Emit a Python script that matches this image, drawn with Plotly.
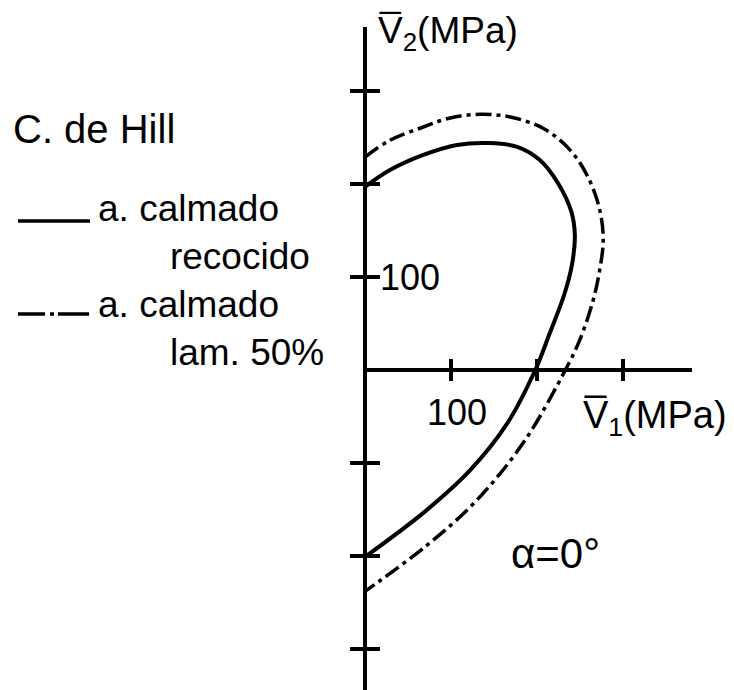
import plotly.graph_objects as go

# Hill yield loci (alpha = 0 deg), stresses in MPa
annealed_s1 = [0, 29, 67, 107, 145, 177, 203, 225, 240, 244, 241, 232, 215, 198,
               165, 122, 70, 0]
annealed_s2 = [197, 215, 231, 242, 244, 240, 226, 200, 170, 145, 115, 82, 40, 0,
               -58, -108, -152, -201]

rolled_s1 = [0, 29, 67, 99, 134, 169, 207, 238, 259, 273, 277, 273, 265, 250, 233,
             185, 130, 70, 0]
rolled_s2 = [229, 247, 261, 271, 275, 272, 260, 237, 208, 172, 140, 108, 74, 33, 0,
             -77, -140, -190, -238]

x_ticks = [100, 200, 300]
y_ticks = [-300, -200, -100, 100, 200, 300]
tick_label = "100"

legend_lines = ["a. calmado", "recocido", "a. calmado", "lam. 50%"]
legend_indent = [0, 7, 0, 7]

W, H = 734, 690
# pixel mapping of the drawing: origin and px per MPa
OX, OY = 365, 370
KX, KY = 0.86, 0.93
X_RANGE = [-OX / KX, (W - OX) / KX]
Y_RANGE = [(OY - H) / KY, OY / KY]

FONT = "Liberation Sans, Arial, sans-serif"
INK = "black"


def paper(xpx, ypx):
    return xpx / W, 1 - ypx / H


fig = go.Figure()

# coordinate axes through the origin
fig.add_trace(go.Scatter(x=[0, 0], y=[(OY - 27) / KY, Y_RANGE[0]], mode="lines",
                         line=dict(color=INK, width=4), hoverinfo="skip"))
fig.add_trace(go.Scatter(x=[0, (692 - OX) / KX], y=[0, 0], mode="lines",
                         line=dict(color=INK, width=4), hoverinfo="skip"))

# tick marks crossing the axes
tx, ty = [], []
for v in y_ticks:
    tx += [-15 / KX, 15 / KX, None]
    ty += [v, v, None]
for v in x_ticks:
    tx += [v, v, None]
    ty += [-11 / KY, 11 / KY, None]
fig.add_trace(go.Scatter(x=tx, y=ty, mode="lines", line=dict(color=INK, width=4),
                         hoverinfo="skip"))

# yield curves
fig.add_trace(go.Scatter(x=annealed_s1, y=annealed_s2, mode="lines",
                         line=dict(color=INK, width=4, shape="spline", smoothing=1.0)))
fig.add_trace(go.Scatter(x=rolled_s1, y=rolled_s2, mode="lines",
                         line=dict(color=INK, width=3.5, shape="spline", smoothing=1.0,
                                   dash="16px,5px,4px,5px")))

ann = []


def label(text, xpx, ypx, size, xanchor="left"):
    px_, py_ = paper(xpx, ypx)
    ann.append(dict(text=text, x=px_, y=py_, xref="paper", yref="paper",
                    xanchor=xanchor, yanchor="middle", showarrow=False, align="left",
                    font=dict(family=FONT, size=size, color=INK)))


label("C. de Hill", 11, 129, 40)
legend_text = "<br>".join("\u00a0" * n + s for s, n in zip(legend_lines, legend_indent))
label(legend_text, 96, 281, 37)
label("V\u0305<sub>2</sub>(MPa)", 448, 33, 37, "center")
label("V\u0305<sub>1</sub>(MPa)", 655, 418, 38, "center")
label("\u03b1=0\u00b0", 555, 553, 42, "center")

# tick value labels tied to the 100 MPa ticks
ann.append(dict(text=tick_label, x=0, y=100, xref="x", yref="y", xanchor="left",
                yanchor="middle", xshift=13, showarrow=False,
                font=dict(family=FONT, size=36, color=INK)))
ann.append(dict(text=tick_label, x=100, y=0, xref="x", yref="y", xanchor="center",
                yanchor="top", xshift=6, yshift=-20, showarrow=False,
                font=dict(family=FONT, size=36, color=INK)))

# legend samples
shapes = []


def seg(x0, x1, y, w=3.5):
    a0, b0 = paper(x0, y)
    a1, _ = paper(x1, y)
    shapes.append(dict(type="line", xref="paper", yref="paper", x0=a0, x1=a1,
                       y0=b0, y1=b0, line=dict(color=INK, width=w)))


seg(18, 90, 221)
seg(18, 45, 314)
seg(50, 54, 314)
seg(58, 89, 314)

fig.update_layout(
    width=W, height=H, margin=dict(l=0, r=0, t=0, b=0),
    paper_bgcolor="white", plot_bgcolor="white", showlegend=False,
    xaxis=dict(range=X_RANGE, visible=False, fixedrange=True),
    yaxis=dict(range=Y_RANGE, visible=False, fixedrange=True),
    annotations=ann, shapes=shapes,
)

fig.write_html("out.html")
